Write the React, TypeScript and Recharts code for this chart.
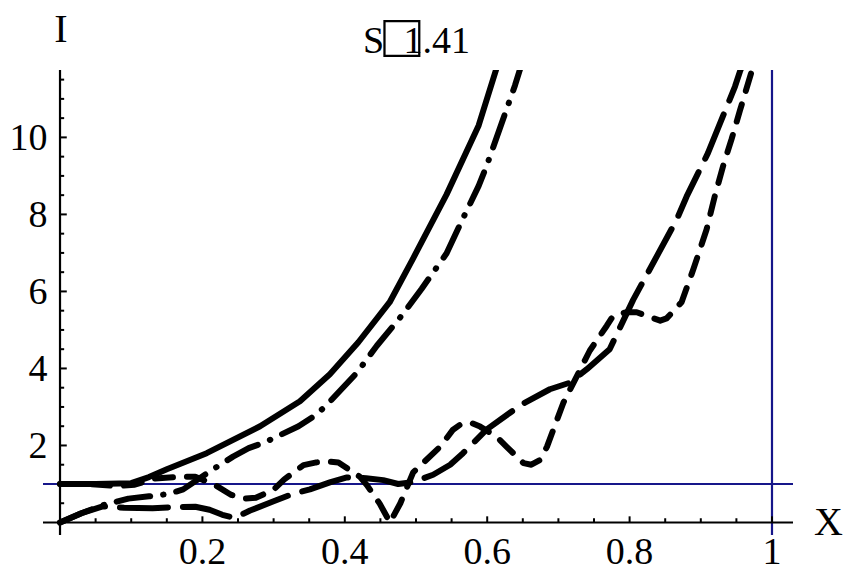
import React from 'react';
import { LineChart, Line, XAxis, YAxis, ReferenceLine } from 'recharts';

// ---- data ----
const solidX = [0, 0.05, 0.1, 0.125, 0.15, 0.206, 0.281, 0.337, 0.379, 0.419, 0.463, 0.496, 0.543, 0.588, 0.613, 0.625];
const solidY = [1, 1, 1.02, 1.18, 1.38, 1.8, 2.5, 3.15, 3.85, 4.68, 5.72, 6.86, 8.52, 10.31, 11.79, 12.5];

const dashDotX = [0, 0.03, 0.06, 0.096, 0.125, 0.152, 0.173, 0.213, 0.243, 0.265, 0.29, 0.335, 0.36, 0.375, 0.417, 0.445, 0.482, 0.508, 0.543, 0.564, 0.588, 0.599, 0.639, 0.65];
const dashDotY = [0, 0.24, 0.45, 0.62, 0.68, 0.74, 0.86, 1.36, 1.71, 1.93, 2.1, 2.5, 2.8, 3.06, 3.89, 4.59, 5.42, 6.07, 6.99, 7.82, 8.74, 9.25, 11.35, 12.0];

const longDashX = [0, 0.03, 0.06, 0.09, 0.13, 0.16, 0.19, 0.21, 0.228, 0.245, 0.267, 0.3, 0.328, 0.351, 0.38, 0.403, 0.43, 0.454, 0.475, 0.496, 0.524, 0.548, 0.566, 0.599, 0.632, 0.648, 0.688, 0.716, 0.74, 0.772, 0.805, 0.866, 0.88, 0.91, 0.948, 0.955, 0.965];
const longDashY = [0, 0.24, 0.42, 0.38, 0.37, 0.4, 0.41, 0.33, 0.2, 0.12, 0.31, 0.55, 0.75, 0.86, 1.05, 1.17, 1.15, 1.1, 1.0, 1.05, 1.24, 1.5, 1.8, 2.41, 2.85, 3.06, 3.46, 3.63, 3.98, 4.5, 5.78, 7.86, 8.46, 9.59, 11.32, 11.71, 12.2];

const shortDashX = [0, 0.04, 0.08, 0.105, 0.133, 0.171, 0.19, 0.218, 0.24, 0.26, 0.275, 0.3, 0.315, 0.342, 0.36, 0.379, 0.391, 0.421, 0.431, 0.449, 0.4635, 0.478, 0.496, 0.534, 0.552, 0.562, 0.576, 0.59, 0.613, 0.627, 0.651, 0.662, 0.674, 0.684, 0.707, 0.744, 0.768, 0.777, 0.796, 0.81, 0.843, 0.852, 0.873, 0.89, 0.908, 0.92, 0.932, 0.943, 0.955, 0.972, 0.985];
const shortDashY = [1, 1, 0.95, 0.98, 1.14, 1.19, 1.19, 0.97, 0.72, 0.62, 0.64, 0.85, 1.12, 1.49, 1.56, 1.58, 1.56, 1.19, 0.97, 0.49, 0, 0.5, 1.3, 1.97, 2.41, 2.54, 2.6, 2.49, 2.23, 1.97, 1.54, 1.5, 1.62, 1.97, 3.11, 4.46, 5.11, 5.37, 5.46, 5.46, 5.24, 5.3, 5.72, 6.6, 7.6, 8.5, 9.3, 9.94, 10.7, 11.75, 12.6];

const xTickLabels = [0.2, 0.4, 0.6, 0.8, 1];
const yTickLabels = [2, 4, 6, 8, 10];
const xMinorTicks = [0.05, 0.1, 0.15, 0.25, 0.3, 0.35, 0.45, 0.5, 0.55, 0.65, 0.7, 0.75, 0.85, 0.9, 0.95];
const yMinorTicks = [0.5, 1, 1.5, 2.5, 3, 3.5, 4.5, 5, 5.5, 6.5, 7, 7.5, 8.5, 9, 9.5, 10.5, 11, 11.5];
const refLevelY = 1;
const refLevelX = 1;

const titleParts = ['S', '\u25A1', '1.41'];
const xAxisName = 'X';
const yAxisName = 'I';

// ---- styles ----
const W = 847;
const H = 571;
const FONT = 'Liberation Serif, Times New Roman, serif';
const FS = 38;
const BLUE = '#16168a';
const X_DOMAIN: [number, number] = [-0.0239, 1.0295];
const Y_DOMAIN: [number, number] = [-0.325, 11.75];
const X_TICK_MAJOR = 0.16;
const X_TICK_MINOR = 0.11;
const Y_TICK_MAJOR = 0.0095;
const Y_TICK_MINOR = 0.0058;
const CURVE_W = 6;

const rows = (xs: number[], ys: number[]) => xs.map((x, i) => ({ x, y: ys[i] }));

const XTick = (props: any) => {
  const { x, y, payload } = props;
  return (
    <text x={x} y={y + 29} textAnchor="middle" fontFamily={FONT} fontSize={FS} fill="#000">
      {String(payload.value)}
    </text>
  );
};

const YTick = (props: any) => {
  const { x, y, payload } = props;
  return (
    <text x={x + 4.5} y={y + 13} textAnchor="end" fontFamily={FONT} fontSize={FS} fill="#000">
      {String(payload.value)}
    </text>
  );
};

export default function App() {
  return (
    <div style={{ position: 'absolute', left: 0, top: 0, width: W, height: H, background: '#fff' }}>
      <LineChart width={W} height={H} margin={{ top: 70, right: 54, bottom: 0, left: 0 }}>
        <XAxis
          type="number"
          dataKey="x"
          domain={X_DOMAIN}
          allowDataOverflow
          ticks={xTickLabels}
          interval={0}
          axisLine={false}
          tickLine={false}
          tickSize={0}
          tickMargin={0}
          height={36}
          tick={XTick}
        />
        <YAxis
          type="number"
          dataKey="y"
          domain={Y_DOMAIN}
          allowDataOverflow
          ticks={yTickLabels}
          interval={0}
          axisLine={false}
          tickLine={false}
          tickSize={0}
          tickMargin={0}
          width={43}
          tick={YTick}
        />
        <ReferenceLine y={refLevelY} stroke={BLUE} strokeWidth={2.2} />
        <ReferenceLine x={refLevelX} stroke={BLUE} strokeWidth={2.2} />
        <ReferenceLine y={0} stroke="#000" strokeWidth={2.2} />
        <ReferenceLine x={0} stroke="#000" strokeWidth={2.2} />
        {xTickLabels.map((t) => (
          <ReferenceLine key={'xM' + t} segment={[{ x: t, y: 0 }, { x: t, y: X_TICK_MAJOR }]} stroke="#000" strokeWidth={2} ifOverflow="visible" />
        ))}
        {xMinorTicks.map((t) => (
          <ReferenceLine key={'xm' + t} segment={[{ x: t, y: 0 }, { x: t, y: X_TICK_MINOR }]} stroke="#000" strokeWidth={2} ifOverflow="visible" />
        ))}
        {yTickLabels.map((t) => (
          <ReferenceLine key={'yM' + t} segment={[{ x: 0, y: t }, { x: Y_TICK_MAJOR, y: t }]} stroke="#000" strokeWidth={2} ifOverflow="visible" />
        ))}
        {yMinorTicks.map((t) => (
          <ReferenceLine key={'ym' + t} segment={[{ x: 0, y: t }, { x: Y_TICK_MINOR, y: t }]} stroke="#000" strokeWidth={2} ifOverflow="visible" />
        ))}
        <Line data={rows(solidX, solidY)} dataKey="y" type="linear" stroke="#000" strokeWidth={CURVE_W} dot={false} activeDot={false} strokeLinecap="round" strokeLinejoin="round" isAnimationActive={false} />
        <Line data={rows(dashDotX, dashDotY)} dataKey="y" type="linear" stroke="#000" strokeWidth={CURVE_W} dot={false} activeDot={false} strokeDasharray="34 13 0.5 13" strokeLinecap="round" strokeLinejoin="round" isAnimationActive={false} />
        <Line data={rows(longDashX, longDashY)} dataKey="y" type="linear" stroke="#000" strokeWidth={CURVE_W} dot={false} activeDot={false} strokeDasharray="48 15" strokeLinecap="round" strokeLinejoin="round" isAnimationActive={false} />
        <Line data={rows(shortDashX, shortDashY)} dataKey="y" type="linear" stroke="#000" strokeWidth={CURVE_W} dot={false} activeDot={false} strokeDasharray="18 14" strokeLinecap="round" strokeLinejoin="round" isAnimationActive={false} />
      </LineChart>
      <svg width={W} height={H} style={{ position: 'absolute', left: 0, top: 0, pointerEvents: 'none' }}>
        <text x={61} y={42} textAnchor="middle" fontFamily={FONT} fontSize={40} fill="#000">{yAxisName}</text>
        <text x={814} y={535} textAnchor="start" fontFamily={FONT} fontSize={40} fill="#000">{xAxisName}</text>
        <text x={363} y={53} fontFamily={FONT} fontSize={FS} fill="#000">
          {titleParts[0]}
          <tspan fontSize={62} dy={4} dx={-1}>{titleParts[1]}</tspan>
          <tspan fontSize={FS} dy={-4} dx={-17}>{titleParts[2]}</tspan>
        </text>
      </svg>
    </div>
  );
}
